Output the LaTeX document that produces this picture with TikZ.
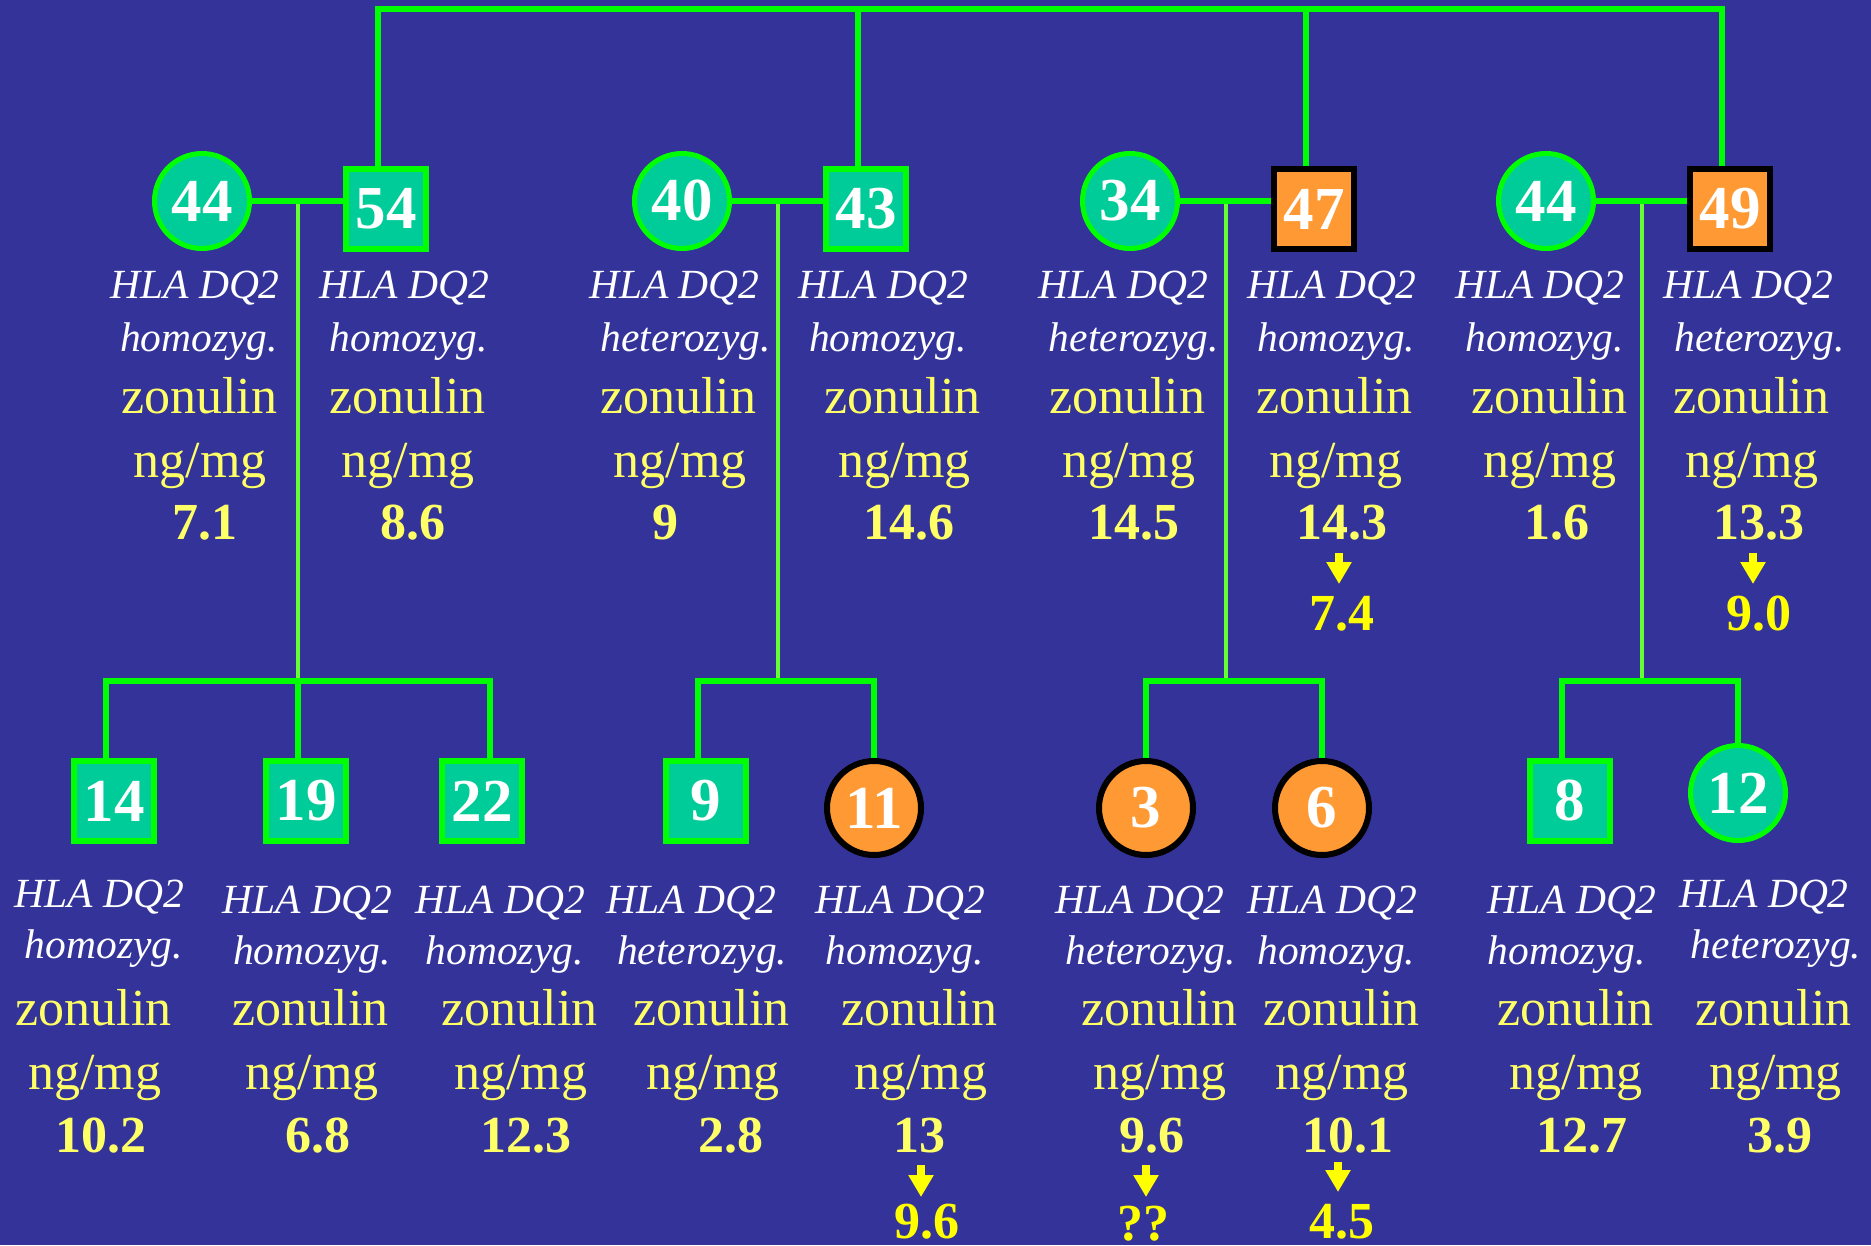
\documentclass[tikz,border=0pt]{standalone}
\usepackage{fontspec}
\setmainfont{Liberation Serif}
\usetikzlibrary{arrows.meta,calc}
\definecolor{bg}{HTML}{333399}
\definecolor{teal2}{HTML}{00CC99}
\definecolor{grn}{HTML}{00FF00}
\definecolor{lgrn}{HTML}{66FF33}
\definecolor{orng}{HTML}{FF9933}
\definecolor{yel}{HTML}{FFFF66}
\definecolor{yel2}{HTML}{FFFF00}
\newcommand\pinfo[9]{%
  \node[hla] (#1h) at (#3,#2) {HLA DQ2};
  \node[hla] (#1z) at (#4,{#2+\dZ}) {#5};
  \node[zon] (#1n) at (#6,\yZon) {zonulin};
  \node[zon] (#1u) at (#7,\yNg) {ng/mg};
  \node[val] (#1v) at (#8,\yVal) {#9};
}
\begin{document}
\begin{tikzpicture}[x=1pt,y=-1pt,
  numfont/.style={font=\fontsize{61}{61}\selectfont\bfseries},
  female/.style={circle,draw=grn,fill=teal2,line width=5pt,minimum size=95pt,inner sep=0pt,text=white,numfont},
  male/.style={rectangle,draw=grn,fill=teal2,line width=6pt,minimum size=80pt,inner sep=0pt,text=white,numfont},
  affF/.style={female,draw=black,fill=orng,line width=6pt,minimum size=94pt},
  affM/.style={male,draw=black,fill=orng},
  hla/.style={anchor=base,inner sep=0pt,text=white,font=\fontsize{41.5}{41.5}\selectfont\itshape},
  zon/.style={anchor=base,inner sep=0pt,text=yel,font=\fontsize{52}{52}\selectfont},
  val/.style={anchor=base,inner sep=0pt,text=yel,font=\fontsize{52}{52}\selectfont\bfseries},
  valtwo/.style={val,text=yel2},
  marr/.style={line width=5.5pt,draw=grn,line join=miter},
  descline/.style={line width=4.5pt,draw=lgrn},
  yarr/.style={draw=yel2,line width=8pt,-{Triangle[width=24pt,length=22pt]}}
]
\useasboundingbox (0,0) rectangle (1871,1245);
\fill[bg] (0,0) rectangle (1871,1245);

% ---- coordinates for connectors
\coordinate (t0) at (378,9);
\coordinate (tB) at (858,9);
\coordinate (tC) at (1306,9);
\coordinate (t1) at (1722,9);

\coordinate (dA) at (298,201); \coordinate (sA) at (298,681);
\coordinate (sA1) at (106,681); \coordinate (sA3) at (490,681);
\coordinate (dB) at (778,201); \coordinate (sB) at (778,681);
\coordinate (sB1) at (698,681); \coordinate (sB2) at (874,681);
\coordinate (dC) at (1226,201); \coordinate (sC) at (1226,681);
\coordinate (sC1) at (1146,681); \coordinate (sC2) at (1322,681);
\coordinate (dD) at (1642,201); \coordinate (sD) at (1642,681);
\coordinate (sD1) at (1562,681); \coordinate (sD2) at (1738,681);

% ---- connectors behind the symbols
\draw[marr,line width=6pt] (t0 |- 0,166) -- (t0) -- (t1) -- (t1 |- 0,166);
\draw[marr,line width=6pt] (tB) -- (tB |- 0,166);
\draw[marr,line width=6pt] (tC) -- (tC |- 0,166);

\draw[descline] (dA) -- (sA);
\draw[descline] (dB) -- (sB);
\draw[descline] (dC) -- (sC);
\draw[descline] (dD) -- (sD);

\draw[marr] (sA1 |- 0,760) -- (sA1) -- (sA3) -- (sA3 |- 0,760);
\draw[marr] (sA) -- (sA |- 0,760);
\draw[marr] (sB1 |- 0,760) -- (sB1) -- (sB2) -- (sB2 |- 0,760);
\draw[marr] (sC1 |- 0,760) -- (sC1) -- (sC2) -- (sC2 |- 0,760);
\draw[marr] (sD1 |- 0,760) -- (sD1) -- (sD2) -- (sD2 |- 0,745);

% ---- parents
\node[female] (a1) at (202,201) {44};
\node[male]   (a2) at (386,209) {54};
\node[female] (b1) at (682,201) {40};
\node[male]   (b2) at (866,209) {43};
\node[female] (c1) at (1130,201) {34};
\node[affM]   (c2) at (1314,209) {47};
\node[female] (d1) at (1546,201) {44};
\node[affM]   (d2) at (1730,209) {49};

\draw[marr] (a1.east) -- (a1.east -| a2.west);
\draw[marr] (b1.east) -- (b1.east -| b2.west);
\draw[marr] (c1.east) -- (c1.east -| c2.west);
\draw[marr] (d1.east) -- (d1.east -| d2.west);

% ---- children
\node[male] (k14) at (114,801) {14};
\node[male] (k19) at (306,801) {19};
\node[male] (k22) at (482,801) {22};
\node[male] (k9)  at (706,801) {9};
\node[affF] (k11) at (874,808) {11};
\node[affF] (k3)  at (1146,808) {3};
\node[affF] (k6)  at (1322,808) {6};
\node[male] (k8)  at (1570,801) {8};
\node[female] (k12) at (1738,793) {12};

% ---- texts, top row
\def\dZ{53}\def\yZon{413}\def\yNg{477}\def\yVal{539}
\pinfo{a1}{298}{195}{199}{homozyg.}{199}{200}{205}{7.1}
\pinfo{a2}{298}{404.5}{408.7}{homozyg.}{407.5}{408}{413}{8.6}
\pinfo{b1}{298}{674.7}{685.5}{heterozyg.}{678}{680}{665.8}{9}
\pinfo{b2}{298}{883.6}{888}{homozyg.}{902.6}{904.5}{909}{14.6}
\pinfo{c1}{298}{1123.4}{1134}{heterozyg.}{1127}{1128.8}{1134}{14.5}
\pinfo{c2}{298}{1332}{1336.4}{homozyg.}{1334.6}{1335.8}{1341.8}{14.3}
\pinfo{d1}{298}{1539.8}{1544.6}{homozyg.}{1549.4}{1550}{1557}{1.6}
\pinfo{d2}{298}{1748.6}{1759.4}{heterozyg.}{1751}{1752.2}{1759.4}{13.3}
\node[valtwo] (c2w) at (1342.3,630) {7.4};
\node[valtwo] (d2w) at (1758.8,630) {9.0};
\coordinate (c2a) at (1339,553); \coordinate (c2b) at (1339,584);
\coordinate (d2a) at (1753,553); \coordinate (d2b) at (1753,584);
\draw[yarr] (c2a) -- (c2b);
\draw[yarr] (d2a) -- (d2b);

% ---- texts, bottom row
\def\dZ{51.5}\def\yZon{1025}\def\yNg{1089}\def\yVal{1152}
\pinfo{k14}{907}{99.6}{103.8}{homozyg.}{93.7}{94.9}{100.8}{10.2}
\pinfo{k19}{913}{307.2}{312}{homozyg.}{310.8}{312}{318}{6.8}
\pinfo{k22}{913}{500.5}{504.7}{homozyg.}{519.6}{520.8}{526.2}{12.3}
\pinfo{k9}{913}{691.5}{702.2}{heterozyg.}{711.7}{713}{731.4}{2.8}
\pinfo{k11}{913}{900.3}{904.5}{homozyg.}{919.4}{920.6}{919.4}{13}
\pinfo{k3}{913}{1140}{1150.9}{heterozyg.}{1159.2}{1160.4}{1152}{9.6}
\pinfo{k6}{913}{1332.2}{1336.4}{homozyg.}{1341.8}{1342.4}{1347.7}{10.1}
\pinfo{k8}{913}{1572}{1566.7}{homozyg.}{1575.6}{1576.2}{1581.6}{12.7}
\pinfo{k12}{907}{1764}{1776}{heterozyg.}{1773.7}{1775.5}{1780}{3.9}
\node[valtwo] (k11w) at (927,1238) {9.6};
\node[valtwo] (k3w)  at (1143.7,1240) {??};
\node[valtwo] (k6w)  at (1342.4,1238) {4.5};
\coordinate (k11a) at (921,1165); \coordinate (k11b) at (921,1197);
\coordinate (k3a) at (1146,1165); \coordinate (k3b) at (1146,1197);
\coordinate (k6a) at (1338,1162); \coordinate (k6b) at (1338,1192);
\draw[yarr] (k11a) -- (k11b);
\draw[yarr] (k3a) -- (k3b);
\draw[yarr] (k6a) -- (k6b);
\end{tikzpicture}
\end{document}
